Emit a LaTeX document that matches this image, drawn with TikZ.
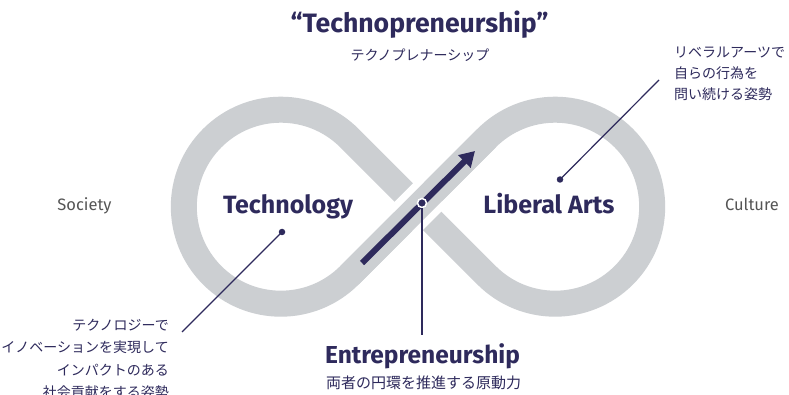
\documentclass[tikz,border=0pt]{standalone}
\usepackage{fontspec}
\setmainfont{Fira Sans}
\newfontfamily\jp{Noto Sans CJK JP}
\usetikzlibrary{arrows.meta}
\definecolor{navy}{HTML}{2E2A5C}
\definecolor{bandgray}{HTML}{CCCFD2}
\definecolor{socgray}{HTML}{555555}
\begin{document}
\begin{tikzpicture}[x=1pt,y=-1pt,
  bandline/.style={draw=bandgray, line width=26pt, line cap=butt, line join=round},
  ann/.style={draw=navy, line width=1.2pt},
  dotn/.style={circle, fill=navy, inner sep=0pt, minimum size=6.5pt},
  jptext/.style={text=navy, font=\jp\fontsize{14}{21}\selectfont, inner sep=0pt},
  bigtext/.style={text=navy, font=\bfseries\fontsize{25}{30}\selectfont, inner sep=0pt},
  sidetext/.style={text=socgray, font=\fontsize{16.5}{20}\selectfont, inner sep=0pt}]
\fill[white] (0,0) rectangle (789,395);
\clip (0,0) rectangle (789,395);
\useasboundingbox (0,0) rectangle (789,395);

% infinity band
\begin{scope}[shift={(418,206.7)}]
  \draw[bandline] (-68.59,68.59) -- (68.59,-68.59)
     arc[start angle=-135, end angle=135, radius=97]
     -- (-68.59,-68.59)
     arc[start angle=-45, end angle=-315, radius=97] -- cycle;
  \draw[white, line width=40pt] (-15,15) -- (15,-15);
  \draw[bandline] (-68.59,68.59) -- (68.59,-68.59);
\end{scope}

% titles
\node[text=navy, font=\bfseries\fontsize{26.6}{30}\selectfont, inner sep=0pt, anchor=base] (title) at (419.5,33) {“Technopreneurship”};
\node[jptext] (sub) at (420,55) {テクノプレナーシップ};

\node[bigtext, anchor=base] (tech) at (288,214) {Technology};
\node[bigtext, anchor=base] (lib) at (549,214) {Liberal Arts};
\node[sidetext, anchor=base] (soc) at (84.5,211) {Society};
\node[sidetext, anchor=base] (cul) at (752,211) {Culture};

\node[bigtext, font=\bfseries\fontsize{24.5}{30}\selectfont, anchor=base] (ent) at (422.5,363) {Entrepreneurship};
\node[jptext, font=\jp\fontsize{15}{18}\selectfont] (entjp) at (423.5,383) {両者の円環を推進する原動力};

% arrow
\coordinate (a0) at (362,263);
\coordinate (a1) at (475,151);
\draw[navy, line width=6pt, -{Triangle[length=15pt,width=17pt]}] (a0) -- (a1);

% center pointer
\coordinate (e3) at (422,335);
\node[dotn, draw=white, line width=1.5pt, minimum size=9pt] (d3) at (422,203) {};
\draw[ann] (d3.south) -- (e3);

% left pointer
\node[dotn] (d1) at (282,232) {};
\coordinate (e1) at (182,332);
\draw[ann] (d1.center) -- (e1);

% right pointer
\node[dotn] (d2) at (560,179.5) {};
\coordinate (e2) at (659,80);
\draw[ann] (d2.center) -- (e2);

% annotations
\node[jptext, font=\jp\fontsize{14}{22.3}\selectfont, align=right, anchor=north east] (lt) at (169,319) {テクノロジーで\\イノベーションを実現して\\インパクトのある\\社会貢献をする姿勢};
\node[jptext, align=left, anchor=north west] (rt) at (674,47) {リベラルアーツで\\自らの行為を\\問い続ける姿勢};
\end{tikzpicture}
\end{document}
